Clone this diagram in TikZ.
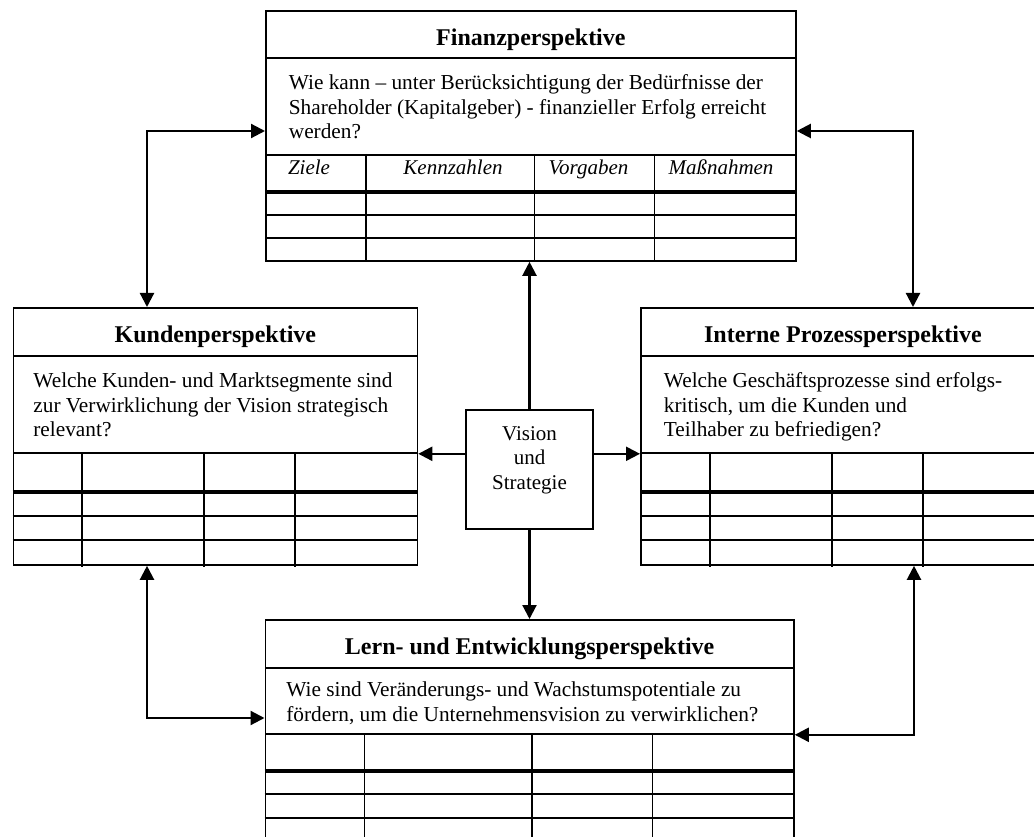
\documentclass[tikz,border=0pt]{standalone}
\usepackage{fontspec}
\setmainfont{Liberation Serif}
\usepackage{tikz}
\usetikzlibrary{positioning, arrows.meta, calc}

\begin{document}
\begin{tikzpicture}[x=1pt, y=-1pt,
  titlebox/.style={draw, line width=1.8pt, anchor=north west, minimum height=47.5pt, text height=21pt, text depth=0pt, font=\fontsize{24}{28}\selectfont\bfseries},
  qbox/.style={draw, line width=1.8pt, anchor=north west, align=flush left, text height=15pt, text depth=48pt, font=\fontsize{21.3}{24.2}\selectfont},
  tabbox/.style={draw, line width=1.8pt, anchor=north west, inner sep=0pt},
  hdr/.style={anchor=base, font=\fontsize{21}{24}\selectfont\itshape},
  rule/.style={line width=1.8pt},
  headrule/.style={line width=3.5pt},
  link/.style={line width=2.2pt, {Triangle[length=14pt,width=14pt]}-{Triangle[length=14pt,width=14pt]}},
  push/.style={line width=2.2pt, -{Triangle[length=14pt,width=14pt]}}]
\clip (0,0) rectangle (1034,837);
% Finanzperspektive (top)
\node[titlebox, minimum width=530pt] (fintitle) at (265,10) {Finanzperspektive};
\node[qbox, minimum width=530pt, minimum height=97pt, inner xsep=23pt, text width=484pt] (finq) at (265,57)
  {Wie kann -- unter Berücksichtigung der Bedürfnisse der\\Shareholder (Kapitalgeber) - finanzieller Erfolg erreicht\\werden?};
\node[tabbox, minimum width=530pt, minimum height=106pt] (fintab) at (265,154) {};
\node[hdr] (finz) at (309,175) {Ziele};
\node[hdr] (fink) at (453,175) {Kennzahlen};
\node[hdr] (finv) at (588.5,175) {Vorgaben};
\node[hdr] (finm) at (721,175) {Maßnahmen};
\draw[headrule] (265,192) -- (795,192);
\draw[rule] (265,215) -- (795,215) (265,238) -- (795,238);
\draw[rule] (366,154) -- (366,260) (534.5,154) -- (534.5,260) (654.5,154) -- (654.5,260);
% Kundenperspektive (left)
\node[titlebox, minimum width=404pt] (kundtitle) at (12.5,307) {Kundenperspektive};
\node[qbox, minimum width=404pt, minimum height=97pt, inner xsep=20pt, text width=364pt] (kundq) at (12.5,355)
  {Welche Kunden- und Marktsegmente sind\\zur Verwirklichung der Vision strategisch\\relevant?};
\node[tabbox, minimum width=404pt, minimum height=112pt] (kundtab) at (12.5,452) {};
\draw[headrule] (12.5,492) -- (416.5,492);
\draw[rule] (12.5,516) -- (416.5,516) (12.5,540) -- (416.5,540);
\draw[rule] (82,452) -- (82,567) (204,452) -- (204,567) (295,452) -- (295,567);
% Interne Prozessperspektive (right)
\node[titlebox, minimum width=404pt] (proztitle) at (640,307) {Interne Prozessperspektive};
\node[qbox, minimum width=404pt, minimum height=97pt, inner xsep=23pt, text width=358pt] (prozq) at (640,355)
  {Welche Geschäftsprozesse sind erfolgs-\\kritisch, um die Kunden und\\Teilhaber zu befriedigen?};
\node[tabbox, minimum width=404pt, minimum height=112pt] (proztab) at (640,452) {};
\draw[headrule] (640,492) -- (1044,492);
\draw[rule] (640,516) -- (1044,516) (640,540) -- (1044,540);
\draw[rule] (710,452) -- (710,567) (832,452) -- (832,567) (923,452) -- (923,567);
% Lern- und Entwicklungsperspektive (bottom)
\node[titlebox, minimum width=528.5pt] (lerntitle) at (264.5,619) {Lern- und Entwicklungsperspektive};
\node[qbox, minimum width=528.5pt, minimum height=66pt, inner xsep=21pt, text width=486.5pt, text depth=23pt] (lernq) at (264.5,667)
  {Wie sind Veränderungs- und Wachstumspotentiale zu\\fördern, um die Unternehmensvision zu verwirklichen?};
\node[tabbox, minimum width=528.5pt, minimum height=130pt] (lerntab) at (264.5,733) {};
\draw[headrule] (264.5,771) -- (793,771);
\draw[rule] (264.5,794) -- (793,794) (264.5,818) -- (793,818) (264.5,841) -- (793,841);
\draw[rule] (364.5,733) -- (364.5,863) (532,733) -- (532,863) (652.5,733) -- (652.5,863);
% Vision und Strategie (centre)
\node[draw, line width=1.8pt, minimum width=127pt, minimum height=119pt, text width=110pt, align=center,
  text height=15pt, text depth=74pt, font=\fontsize{21}{24.6}\selectfont] (vision) at (529.5,469.5) {Vision\\und\\Strategie};
\draw[push] (vision.north) -- (vision.north |- fintab.south);
\draw[push] (vision.south) -- (vision.south |- lerntitle.north);
\draw[push] (vision.west |- kundq.south east) -- (kundq.south east);
\draw[push] (vision.east |- prozq.south west) -- (prozq.south west);
% Links between the perspectives
\coordinate (fk) at (147,131);
\coordinate (fp) at (913,131);
\coordinate (kl) at (147,718);
\coordinate (pl) at (914,733);
\draw[link] (kundtitle.north -| fk) |- (finq.west |- fk);
\draw[link] (proztitle.north -| fp) |- (finq.east |- fp);
\draw[link] (kundtab.south -| kl) |- (lernq.west |- kl);
\draw[link] (proztab.south -| pl) |- (lernq.south east);
\end{tikzpicture}
\end{document}
